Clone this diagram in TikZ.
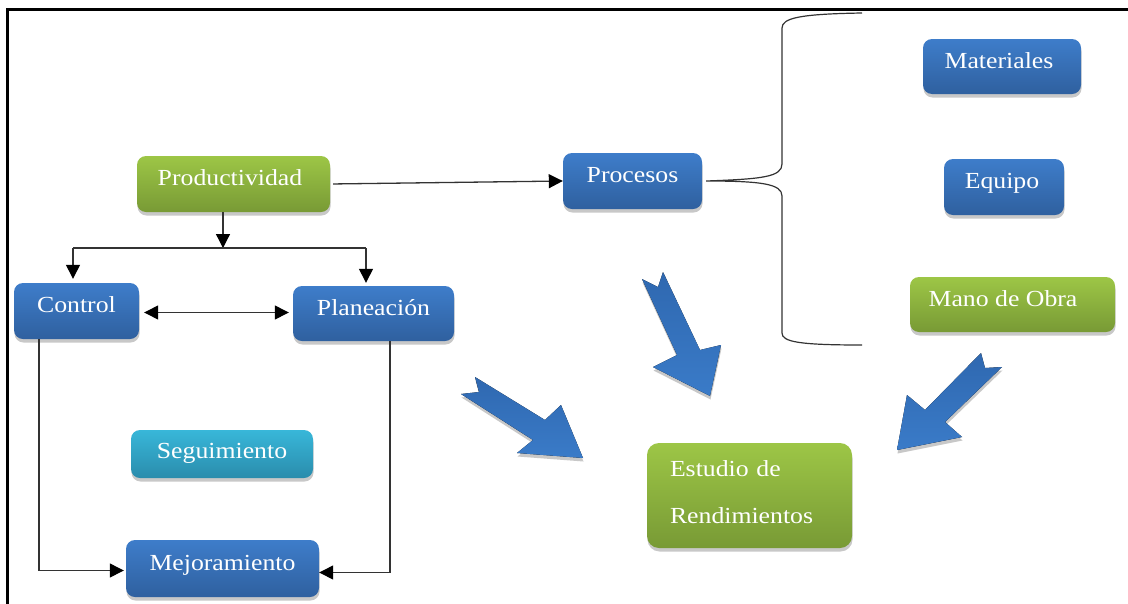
\documentclass[tikz,border=0pt]{standalone}
\usepackage{fontspec}
\setmainfont{Liberation Serif}[FakeStretch=1.12]
\usetikzlibrary{shadows,arrows.meta}

\definecolor{blueTop}{HTML}{3E7DCA}
\definecolor{blueBot}{HTML}{2F609F}
\definecolor{greenTop}{HTML}{9DC646}
\definecolor{greenBot}{HTML}{789A35}
\definecolor{cyanTop}{HTML}{38B7D9}
\definecolor{cyanBot}{HTML}{2A8CAC}
\definecolor{arrowTop}{HTML}{2F68B0}
\definecolor{arrowBot}{HTML}{3A7BC8}
\definecolor{wirecol}{HTML}{333333}

\tikzset{
  softshadow/.style={drop shadow={shadow xshift=0.5pt, shadow yshift=-3.5pt, opacity=0.3, fill=black!70}},
  box/.style={rounded corners=9pt, text=white, inner sep=0pt,
    font=\fontsize{23}{27}\selectfont, text height=12pt, text depth=9pt, softshadow},
  bluebox/.style={box, top color=blueTop, bottom color=blueBot},
  greenbox/.style={box, top color=greenTop, bottom color=greenBot},
  cyanbox/.style={box, top color=cyanTop, bottom color=cyanBot, text height=14pt, text depth=6pt},
  wire/.style={draw=wirecol, line width=1.3pt},
  headtip/.tip={Triangle[length=14pt,width=14pt,fill=black,color=black]},
  wirearrow/.style={-headtip},
  bigarrow/.style={top color=arrowTop, bottom color=arrowBot, draw=none, softshadow},
}

\begin{document}
\begin{tikzpicture}[x=1pt, y=-1pt]
\useasboundingbox (0,0) rectangle (1128,603);
\fill[white] (0,0) rectangle (1128,603);

% frame
\draw[line width=3pt] (7,610) -- (7,9) -- (1135,9);

% boxes
\node[greenbox, minimum width=193pt, minimum height=56pt] (prod) at (233.5,184) {Productividad\hspace*{7pt}};
\node[bluebox,  minimum width=139pt, minimum height=56pt] (proc) at (632.5,181) {Procesos};
\node[bluebox,  minimum width=125pt, minimum height=56pt] (ctrl) at (76.5,311) {Control};
\node[bluebox,  minimum width=161pt, minimum height=55pt] (plan) at (373.5,313.5) {Planeación};
\node[cyanbox,  minimum width=182pt, minimum height=48pt] (seg)  at (222,454) {Seguimiento};
\node[bluebox,  minimum width=193pt, minimum height=57pt] (mej)  at (222.5,568.5) {Mejoramiento};
\node[bluebox,  minimum width=158pt, minimum height=55pt] (mat)  at (1002,66.5) {Materiales\hspace*{6pt}};
\node[bluebox,  minimum width=120pt, minimum height=56pt] (equ)  at (1004,187) {Equipo\hspace*{4pt}};
\node[greenbox, minimum width=205pt, minimum height=55pt] (mano) at (1012.5,304.5) {Mano de Obra\hspace*{19pt}};
\node[rounded corners=12pt, text=white, top color=greenTop, bottom color=greenBot, softshadow,
      minimum width=205pt, minimum height=105pt, inner xsep=23pt, inner ysep=0pt,
      text width=159pt, align=left, font=\fontsize{23}{47}\selectfont] (est) at (749.5,495.5)
      {Estudio de\\Rendimientos\rule[-7pt]{0pt}{0pt}};

% connectors
\coordinate (split) at (223,248);
\coordinate (bl) at (73,248);
\coordinate (br) at (366,248);
\coordinate (cl) at (39,340);
\coordinate (pr) at (390,342);

\draw[wire, wirearrow] (prod.south -| split) -- (split);
\draw[wire] (bl) -- (br);
\draw[wire, wirearrow, shorten >=4pt] (bl) -- (bl |- ctrl.north);
\draw[wire, wirearrow, shorten >=3pt] (br) -- (br |- plan.north);
\draw[wire, headtip-headtip, shorten <=5pt, shorten >=4pt]
  ([yshift=-1.5pt]ctrl.east) -- ([yshift=-1.5pt]ctrl.east -| plan.west);
\draw[wire, wirearrow, shorten >=2pt] (ctrl.south -| cl) |- ([yshift=-2pt]mej.west);
\draw[wire, wirearrow] (plan.south -| pr) |- ([yshift=-4pt]mej.east);
\draw[wire, wirearrow, shorten <=3pt] (prod.east) -- (proc.west);

% brace grouping the resources of the process
\coordinate (btip) at ([xshift=4pt]proc.east);
\draw[wire, line width=1.2pt]
  (862,13) .. controls (800,14) and (782,18) .. (782,28) -- (782,164)
  .. controls (782,177) and (762,179) .. (btip)
  .. controls (762,181) and (782,184) .. (782,196) -- (782,333)
  .. controls (782,342) and (800,345) .. (862,345);

% block arrows pointing to the study
\fill[bigarrow] (475,377) -- (545,420) -- (561,405) -- (583,458) -- (517,453) -- (533,440) -- (461,394) -- (479,392) -- cycle;
\fill[bigarrow] (663,272) -- (700,350) -- (721,345) -- (710,396) -- (653,367) -- (677,355) -- (642,279) -- (658,287) -- cycle;
\fill[bigarrow] (981,353) -- (985,368) -- (1002,367) -- (945,422) -- (962,437) -- (897,450) -- (907,395) -- (925,410) -- cycle;
\end{tikzpicture}
\end{document}
